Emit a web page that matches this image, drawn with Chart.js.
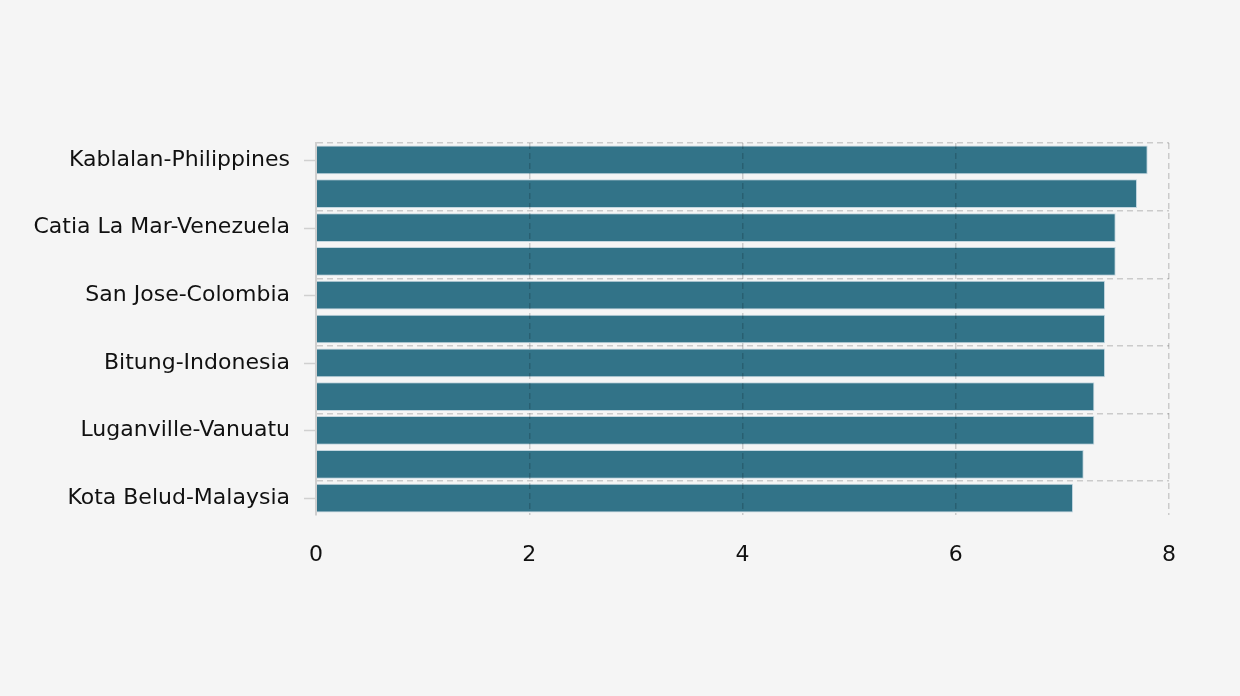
<!DOCTYPE html>
<html>
<head>
<meta charset="utf-8">
<script src="https://cdn.jsdelivr.net/npm/chart.js@4"></script>
<style>
  html, body { margin: 0; padding: 0; background: #f5f5f5; }
  #wrap { width: 1240px; height: 696px; }
</style>
</head>
<body>
<div id="wrap"><canvas id="barChart" width="1240" height="696"></canvas></div>
<script>
// locations (only every other one gets a label on the axis)
var places = [
  'Kablalan-Philippines', 'Hihifo-Tonga', 'Catia La Mar-Venezuela', 'Kokopo-Papua New Guinea',
  'San Jose-Colombia', 'Sola-Vanuatu', 'Bitung-Indonesia', 'Kirakira-Solomon Islands',
  'Luganville-Vanuatu', 'Namie-Japan', 'Kota Belud-Malaysia'
];
var magnitudes = [7.8, 7.7, 7.5, 7.5, 7.4, 7.4, 7.4, 7.3, 7.3, 7.2, 7.1];
var xTicks = [0, 2, 4, 6, 8];

var fontSpec = { family: '"DejaVu Sans", Verdana, sans-serif', size: 22 };
var gridGrey = 'rgba(0,0,0,0.17)';

// short tick marks at the centre of each labelled category
var labelTicks = {
  id: 'labelTicks',
  afterDraw: function(chart) {
    var y = chart.scales.y, c = chart.ctx;
    c.save();
    c.strokeStyle = '#d0d0d0';
    c.lineWidth = 1.5;
    y.ticks.forEach(function(t, i) {
      if (i % 2) return;
      var py = Math.round(y.getPixelForTick(i)) + 0.5;
      c.beginPath();
      c.moveTo(y.right - 12, py);
      c.lineTo(y.right - 1, py);
      c.stroke();
    });
    c.restore();
  }
};

var ctx = document.getElementById('barChart').getContext('2d');
new Chart(ctx, {
  type: 'bar',
  data: {
    labels: places,
    datasets: [{
      data: magnitudes,
      backgroundColor: '#327388',
      borderColor: '#c3d6df',
      borderWidth: 1,
      barPercentage: 0.85,
      categoryPercentage: 1.0
    }]
  },
  options: {
    indexAxis: 'y',
    responsive: false,
    animation: false,
    layout: { padding: { top: 143, right: 71, bottom: 121, left: 10 } },
    plugins: { legend: { display: false }, tooltip: { enabled: false } },
    scales: {
      x: {
        min: 0,
        max: 8,
        afterBuildTicks: function(s) { s.ticks = xTicks.map(function(v) { return { value: v }; }); },
        afterFit: function(s) { s.height = 60; },
        grid: { color: gridGrey, lineWidth: 1.5, drawTicks: false, z: 1 },
        border: { display: false, dash: [6, 4] },
        ticks: { color: '#111', font: fontSpec, padding: 27, maxRotation: 0 }
      },
      y: {
        afterFit: function(s) { s.width = 306; },
        grid: {
          offset: true,
          drawTicks: false,
          z: 1,
          lineWidth: 1.5,
          color: function(c) {
            return (c.index === undefined || c.index % 2) ? 'rgba(0,0,0,0)' : gridGrey;
          }
        },
        border: { display: true, color: '#cfcfcf', width: 2, dash: [6, 4], z: 1 },
        ticks: {
          color: '#111',
          font: fontSpec,
          padding: 26,
          autoSkip: false,
          callback: function(val, i) { return i % 2 ? '' : this.getLabelForValue(val); }
        }
      }
    }
  },
  plugins: [labelTicks]
});
</script>
</body>
</html>
